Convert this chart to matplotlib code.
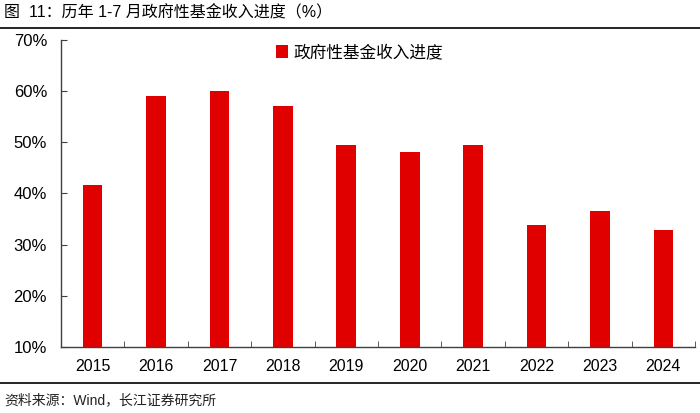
import numpy as np
import matplotlib.pyplot as plt
from matplotlib.lines import Line2D

plt.rcParams['font.family'] = ['Liberation Sans', 'Noto Sans CJK SC', 'DejaVu Sans']

# Data
years = ['2015', '2016', '2017', '2018', '2019', '2020', '2021', '2022', '2023', '2024']
progress = [41.6, 59.0, 60.1, 57.1, 49.5, 48.1, 49.5, 33.8, 36.6, 32.9]
y_ticks = [10, 20, 30, 40, 50, 60, 70]

title = '图  11：历年 1-7 月政府性基金收入进度（%）'
series_name = '政府性基金收入进度'
source = '资料来源：Wind，长江证券研究所'

bar_color = '#E00000'
axis_color = '#404040'

fig = plt.figure(figsize=(7, 4.13), dpi=100)
ax = fig.add_axes([0.087, 0.160, 0.906, 0.743])

x = np.arange(len(years))
ax.bar(x, progress, width=0.31, color=bar_color, label=series_name, zorder=2)

ax.set_xlim(-0.5, len(years) - 0.5)
ax.set_ylim(10, 70)
ax.set_yticks(y_ticks)
ax.set_yticklabels([f'{v}%' for v in y_ticks], fontsize=12)
ax.set_xticks(x)
ax.set_xticklabels(years, fontsize=11.5)
ax.tick_params(axis='x', length=0, pad=9)
ax.tick_params(axis='y', direction='in', length=4, color=axis_color, pad=10)

# category boundary ticks
ax.set_xticks(np.arange(-0.5, len(years), 1), minor=True)
ax.tick_params(axis='x', which='minor', direction='in', length=4, color=axis_color)

for s in ['top', 'right']:
    ax.spines[s].set_visible(False)
for s in ['left', 'bottom']:
    ax.spines[s].set_color(axis_color)
    ax.spines[s].set_linewidth(1.0)

leg = ax.legend(loc='upper left', bbox_to_anchor=(0.315, 1.035), frameon=False,
                prop={'family': ['Noto Sans CJK SC'], 'size': 12},
                handlelength=0.75, handleheight=0.75, handletextpad=0.3)

# title and source
fig.text(0.006, 0.968, title, fontsize=11.5, family=['Liberation Sans', 'Noto Sans CJK SC'], va='center')
fig.add_artist(Line2D([0.0, 1.0], [0.933, 0.933], color='black', lw=1.2))
fig.add_artist(Line2D([0.0, 1.0], [0.073, 0.073], color='black', lw=1.2))
fig.text(0.006, 0.030, source, fontsize=10, family=['Liberation Sans', 'Noto Sans CJK SC'], va='center', color='#222222')

fig.savefig('out.png', dpi=100)
